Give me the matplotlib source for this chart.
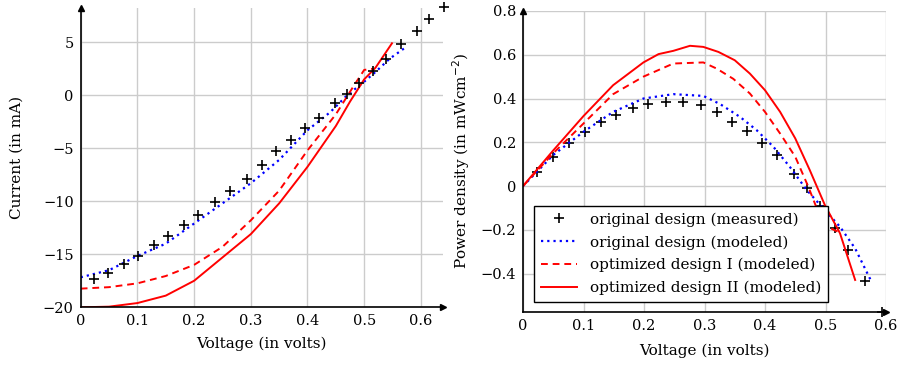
import numpy as np
import matplotlib
matplotlib.use("Agg")
import matplotlib.pyplot as plt
from matplotlib.ticker import FuncFormatter

# measured points (same sweep on both panels)
v_meas = [0.0235, 0.0488, 0.0759, 0.1018, 0.129, 0.1535, 0.1818, 0.207, 0.236, 0.264,
          0.2935, 0.32, 0.345, 0.3706, 0.395, 0.42, 0.448, 0.47, 0.4906, 0.516,
          0.538, 0.5647, 0.593, 0.615, 0.64]
i_meas = [-17.36, -16.8, -15.94, -15.13, -14.09, -13.24, -12.23, -11.29, -10.06, -9.03,
          -7.86, -6.57, -5.28, -4.18, -3.08, -2.11, -0.69, 0.13, 1.16, 2.33,
          3.40, 4.81, 6.07, 7.17, 8.36]
p_meas = [0.065, 0.134, 0.195, 0.248, 0.295, 0.325, 0.359, 0.376, 0.383, 0.385,
          0.370, 0.339, 0.294, 0.251, 0.198, 0.144, 0.053, -0.011, -0.091, -0.19,
          -0.292, -0.432, -0.576]

# current-voltage, modeled
v_orig = [0, 0.05, 0.1, 0.15, 0.2, 0.25, 0.3, 0.35, 0.4, 0.44, 0.47, 0.5, 0.52, 0.545, 0.57]
i_orig = [-17.17, -16.5, -15.16, -14.0, -12.1, -10.2, -8.3, -6.1, -3.3, -1.6, 0.0, 1.28, 2.2, 3.45, 4.4]

v_opt1 = [0, 0.05, 0.1, 0.15, 0.2, 0.25, 0.3, 0.35, 0.4, 0.45, 0.48, 0.5, 0.516]
i_opt1 = [-18.24, -18.1, -17.74, -17.05, -16.0, -14.3, -11.8, -9.0, -5.2, -1.8, 0.75, 2.39, 2.5]

v_opt2 = [0, 0.05, 0.1, 0.15, 0.2, 0.25, 0.3, 0.35, 0.4, 0.45, 0.475, 0.5, 0.52, 0.549]
i_opt2 = [-20, -19.94, -19.6, -18.9, -17.5, -15.3, -13.1, -10.2, -6.75, -2.9, -0.6, 1.5, 2.6, 4.9]

# power density, modeled
vp_orig = [0, 0.05, 0.1, 0.149, 0.199, 0.2485, 0.298, 0.3256, 0.3587, 0.386, 0.4137,
           0.441, 0.469, 0.4964, 0.524, 0.549, 0.576]
p_orig = [0, 0.142, 0.248, 0.339, 0.4, 0.42, 0.412, 0.375, 0.316, 0.256, 0.18,
          0.088, -0.018, -0.102, -0.186, -0.285, -0.437]

vp_opt1 = [0, 0.05, 0.1, 0.149, 0.199, 0.2485, 0.298, 0.32, 0.3476, 0.375, 0.4,
           0.425, 0.45, 0.4716, 0.4964, 0.521]
p_opt1 = [0, 0.15, 0.286, 0.42, 0.5, 0.56, 0.565, 0.537, 0.49, 0.423, 0.339,
          0.24, 0.134, -0.003, -0.178, -0.209]

vp_opt2 = [0, 0.05, 0.1, 0.149, 0.199, 0.224, 0.2485, 0.276, 0.298, 0.323, 0.35,
           0.375, 0.4, 0.425, 0.45, 0.474, 0.499, 0.524, 0.549]
p_opt2 = [0, 0.163, 0.32, 0.461, 0.565, 0.603, 0.618, 0.641, 0.636, 0.613, 0.575,
          0.514, 0.438, 0.339, 0.218, 0.073, -0.087, -0.216, -0.429]

labels = ["original design (measured)", "original design (modeled)",
          "optimized design I (modeled)", "optimized design II (modeled)"]

plt.rcParams["font.family"] = "DejaVu Serif"
plt.rcParams["font.size"] = 10.5
plt.rcParams["axes.unicode_minus"] = True


def fmt(x, pos):
    if abs(x) < 1e-9:
        return "0"
    s = "{:g}".format(round(x, 2))
    return s.replace("-", "\u2212")


def style_axes(ax):
    for side in ["top", "right"]:
        ax.spines[side].set_visible(False)
    for side in ["left", "bottom"]:
        ax.spines[side].set_linewidth(1.2)
    ax.grid(True, color="#cccccc", linewidth=1.0)
    ax.set_axisbelow(True)
    ax.tick_params(length=0, pad=5, labelsize=10.5)
    ax.xaxis.set_major_formatter(FuncFormatter(fmt))
    ax.yaxis.set_major_formatter(FuncFormatter(fmt))
    # pgfplots-style arrow heads
    ax.plot(1, 0, ">k", markersize=4, transform=ax.transAxes, clip_on=False)
    ax.plot(0, 1, "^k", markersize=4, transform=ax.transAxes, clip_on=False)


fig = plt.figure(figsize=(8.97, 3.68), dpi=100)

# left: current
ax1 = fig.add_axes([80.7 / 897, 1 - 307.3 / 368, (443 - 80.7) / 897, (307.3 - 8.3) / 368])
ax1.plot(v_orig, i_orig, color="blue", linestyle=(0, (1, 1.8)), linewidth=1.6)
ax1.plot(v_opt1, i_opt1, color="red", linestyle=(0, (3.5, 2.5)), linewidth=1.4)
ax1.plot(v_opt2, i_opt2, color="red", linewidth=1.4)
ax1.plot(v_meas, i_meas, "+", color="black", markersize=6.5, markeredgewidth=1.2, clip_on=False)
ax1.set_xlim(0, 0.639)
ax1.set_ylim(-20, 8.2)
ax1.set_xticks([0, 0.1, 0.2, 0.3, 0.4, 0.5, 0.6])
ax1.set_yticks([-20, -15, -10, -5, 0, 5])
ax1.set_xlabel("Voltage (in volts)", fontsize=11, labelpad=6)
ax1.set_ylabel("Current (in mA)", fontsize=11, labelpad=14)
style_axes(ax1)

# right: power density
ax2 = fig.add_axes([523 / 897, 1 - 311.7 / 368, (886 - 523) / 897, (311.7 - 11) / 368])
h1, = ax2.plot(v_meas[:len(p_meas)], p_meas, "+", color="black", markersize=6.5,
               markeredgewidth=1.2, clip_on=False)
h2, = ax2.plot(vp_orig, p_orig, color="blue", linestyle=(0, (1, 1.8)), linewidth=1.6)
h3, = ax2.plot(vp_opt1, p_opt1, color="red", linestyle=(0, (3.5, 2.5)), linewidth=1.4)
h4, = ax2.plot(vp_opt2, p_opt2, color="red", linewidth=1.4)
ax2.set_xlim(0, 0.6)
ax2.set_ylim(-0.574, 0.8)
ax2.set_xticks([0, 0.1, 0.2, 0.3, 0.4, 0.5, 0.6])
ax2.set_yticks([-0.4, -0.2, 0, 0.2, 0.4, 0.6, 0.8])
ax2.set_xlabel("Voltage (in volts)", fontsize=11, labelpad=8)
ax2.set_ylabel("Power density (in mWcm$^{-2}$)", fontsize=11, labelpad=6)
style_axes(ax2)

leg = ax2.legend([h1, h2, h3, h4], labels, loc="lower left", bbox_to_anchor=(0.03, 0.032),
                 borderaxespad=0, fancybox=False, framealpha=1, edgecolor="black",
                 fontsize=11, handlelength=2.4, labelspacing=0.55, borderpad=0.45)
leg.get_frame().set_linewidth(1.0)
leg.set_zorder(10)

fig.savefig("out.png", dpi=100)
